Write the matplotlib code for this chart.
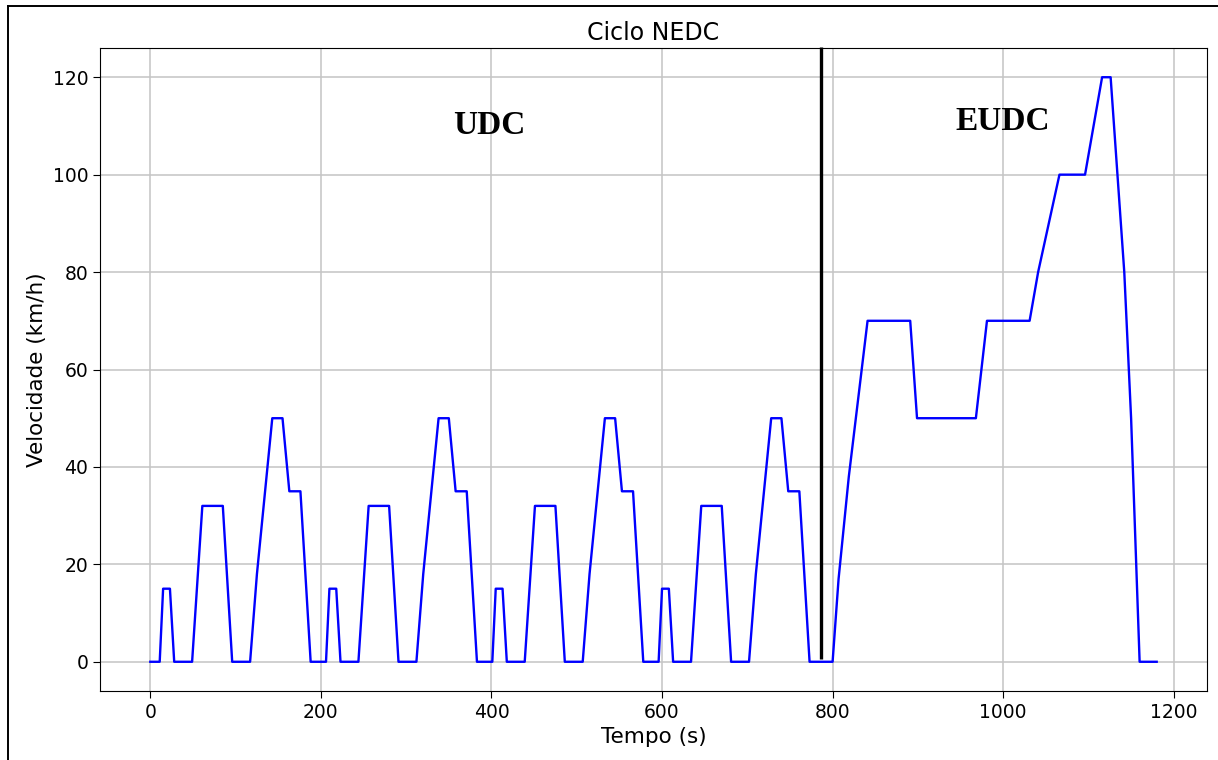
import matplotlib.pyplot as plt
from matplotlib.lines import Line2D

# NEDC speed profile (time in s, speed in km/h)
tempo = [
    0, 11, 15, 23, 28, 49, 61, 85, 96, 117, 125, 143, 155, 163, 176, 188,
    195, 206, 210, 218, 223, 244, 256, 280, 291, 312, 320, 338, 350, 358, 371, 383,
    390, 401, 405, 413, 418, 439, 451, 475, 486, 507, 515, 533, 545, 553, 566, 578,
    585, 596, 600, 608, 613, 634, 646, 670, 681, 702, 710, 728, 740, 748, 761, 773,
    800, 807, 819, 841, 891, 899, 968, 981, 1031, 1041, 1066, 1096, 1116, 1126, 1142, 1150,
    1160, 1180,
]
velocidade = [
    0, 0, 15, 15, 0, 0, 32, 32, 0, 0, 18, 50, 50, 35, 35, 0,
    0, 0, 15, 15, 0, 0, 32, 32, 0, 0, 18, 50, 50, 35, 35, 0,
    0, 0, 15, 15, 0, 0, 32, 32, 0, 0, 18, 50, 50, 35, 35, 0,
    0, 0, 15, 15, 0, 0, 32, 32, 0, 0, 18, 50, 50, 35, 35, 0,
    0, 17, 38, 70, 70, 50, 50, 70, 70, 80, 100, 100, 120, 120, 80, 50,
    0, 0,
]

limite_udc = 786
rotulos = [("UDC", 397, 110), ("EUDC", 999, 111)]

fig = plt.figure(figsize=(12.18, 7.6), dpi=100)
ax = fig.add_axes([100 / 1218, 1 - 691 / 760, 1107 / 1218, 643 / 760])

ax.plot(tempo, velocidade, color="blue", lw=1.7)
ax.grid(True, color="#c4c4c4", lw=1.1)
ax.set_axisbelow(True)

ax.vlines(limite_udc, 0.6, 126.3, color="black", lw=2.4, clip_on=False, zorder=5)
for txt, x, y in rotulos:
    ax.text(x, y, txt, ha="center", va="center", fontsize=24, fontweight="bold",
            family="Liberation Serif")

ax.set_xlim(-59, 1239)
ax.set_ylim(-6, 126)
ax.set_xticks(range(0, 1201, 200))
ax.set_yticks(range(0, 121, 20))
ax.tick_params(labelsize=13.5, length=5)
ax.set_title("Ciclo NEDC", fontsize=17, pad=6)
ax.set_xlabel("Tempo (s)", fontsize=15.5)
ax.set_ylabel("Velocidade (km/h)", fontsize=15.5)

# frame left/top like the reference crop
fig.add_artist(Line2D([8 / 1218, 8 / 1218], [0, 1 - 6 / 760], color="black", lw=1.4))
fig.add_artist(Line2D([8 / 1218, 1], [1 - 6 / 760, 1 - 6 / 760], color="black", lw=1.4))

fig.savefig("out.png", dpi=100)
